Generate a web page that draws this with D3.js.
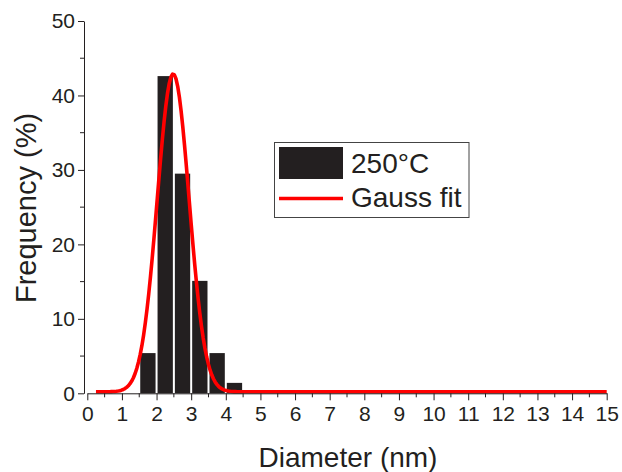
<!DOCTYPE html>
<html>
<head>
<meta charset="utf-8">
<style>
  body { margin: 0; background: #fff; }
  text { font-family: "Liberation Sans", Arial, sans-serif; fill: #231f20; }
</style>
</head>
<body>
<svg id="chart" width="622" height="472"></svg>
<script src="https://d3js.org/d3.v7.min.js"></script>
<script>

// histogram bins (nm) and frequency (%)
var binStarts = [1.5, 2.0, 2.5, 3.0, 3.5, 4.0]
var binWidth = 0.5
var freq = [5.4, 42.6, 29.5, 15.1, 5.4, 1.4]

// gauss fit parameters
var fitY0 = 0.2, fitXc = 2.48, fitSigma = 0.46, fitA = 42.7
var fitRange = [0.25, 15]

var xTicks = d3.range(0, 16)
var yTicks = [0, 10, 20, 30, 40, 50]

var seriesName = "250°C"
var fitName = "Gauss fit"

var svg = d3.select("#chart")
var barColor = "#231f20"

var x = d3.scaleLinear().domain([0, 15]).range([87.3, 606.7])
var y = d3.scaleLinear().domain([0, 50]).range([393.3, 21])

// bars
svg.append("g").selectAll("rect")
  .data(freq)
  .enter().append("rect")
  .attr("x", (d, i) => x(binStarts[i]) + 1)
  .attr("width", (d, i) => x(binStarts[i] + binWidth) - x(binStarts[i]) - 2)
  .attr("y", d => y(d))
  .attr("height", d => y(0) - y(d))
  .attr("fill", barColor)

// gauss fit curve
var fitXs = d3.range(0, 301).map(i => fitRange[0] + (fitRange[1] - fitRange[0]) * i / 300)
var line = d3.line()
  .x(d => x(d))
  .y(d => y(fitY0 + fitA * Math.exp(-Math.pow(d - fitXc, 2) / (2 * fitSigma * fitSigma))))

svg.append("path")
  .datum(fitXs)
  .attr("fill", "none")
  .attr("stroke", "#ff0000")
  .attr("stroke-width", 3.6)
  .attr("stroke-linejoin", "round")
  .attr("d", line)

// axes
var xAxis = svg.append("g")
  .attr("transform", "translate(0," + y(0) + ")")
  .call(d3.axisBottom(x).tickValues(xTicks).tickFormat(d3.format("d")).tickSize(7).tickSizeOuter(0))
xAxis.append("g").selectAll("line")
  .data(d3.range(0.5, 15, 1))
  .enter().append("line")
  .attr("x1", d => x(d)).attr("x2", d => x(d))
  .attr("y1", 0).attr("y2", 4)
  .attr("stroke", "#231f20")

var yAxis = svg.append("g")
  .attr("transform", "translate(84,0)")
  .call(d3.axisLeft(y).tickValues(yTicks).tickSize(6).tickSizeOuter(0))
yAxis.append("g").selectAll("line")
  .data([5, 15, 25, 35, 45])
  .enter().append("line")
  .attr("y1", d => y(d)).attr("y2", d => y(d))
  .attr("x1", 0).attr("x2", -4)
  .attr("stroke", "#231f20")

svg.selectAll(".domain, .tick line").attr("stroke", "#231f20")
xAxis.selectAll(".tick text").attr("font-size", 21).attr("dy", "1em").attr("y", 7)
yAxis.selectAll(".tick text").attr("font-size", 21).attr("x", -9)
svg.selectAll(".tick text").attr("font-family", "Liberation Sans, Arial, sans-serif").attr("fill", "#231f20")

// axis titles
svg.append("text")
  .attr("x", 348).attr("y", 467)
  .attr("text-anchor", "middle")
  .attr("font-size", 28)
  .text("Diameter (nm)")

svg.append("text")
  .attr("transform", "translate(36,208) rotate(-90)")
  .attr("text-anchor", "middle")
  .attr("font-size", 29)
  .text("Frequency (%)")

// legend
var legend = svg.append("g")
legend.append("rect")
  .attr("x", 274.5).attr("y", 142.5)
  .attr("width", 194.5).attr("height", 75)
  .attr("fill", "#fff")
  .attr("stroke", "#444").attr("stroke-width", 1)
legend.append("rect")
  .attr("x", 279).attr("y", 147)
  .attr("width", 64).attr("height", 32)
  .attr("fill", barColor)
legend.append("line")
  .attr("x1", 279).attr("x2", 343)
  .attr("y1", 198.5).attr("y2", 198.5)
  .attr("stroke", "#ff0000").attr("stroke-width", 3.6)
legend.append("text")
  .attr("x", 351).attr("y", 173)
  .attr("font-size", 28)
  .text(seriesName)
legend.append("text")
  .attr("x", 351).attr("y", 207)
  .attr("font-size", 28)
  .text(fitName)

</script>
</body>
</html>
